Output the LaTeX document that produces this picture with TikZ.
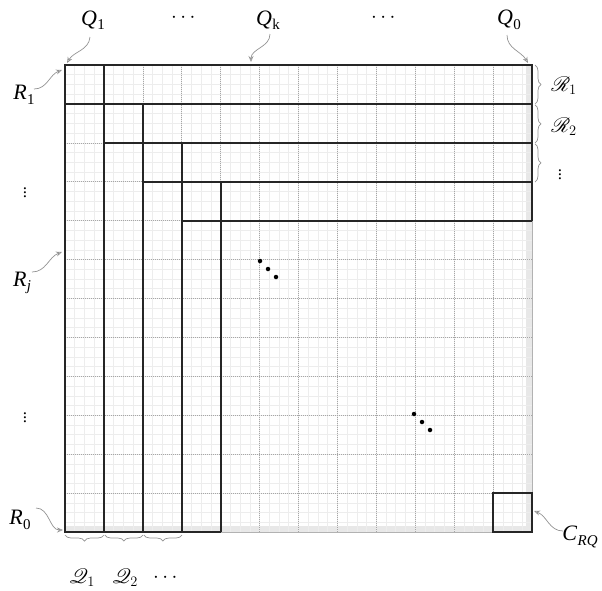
\documentclass[tikz,border=0pt]{standalone}
\usepackage{amsmath,mathrsfs}
\usepackage{fontspec}
\setmainfont{Liberation Serif}
\usetikzlibrary{decorations.pathreplacing,arrows.meta}
\newcommand\sublab[2]{\textit{#1}\kern0.3pt\raisebox{-4.5pt}{\fontsize{15}{16}\selectfont #2}}
\begin{document}
\begin{tikzpicture}[x=1pt,y=-1pt,
  fine/.style={draw=gray!14,line width=0.6pt},
  cellline/.style={draw=gray!70,line width=0.6pt,dash pattern=on 1pt off 1pt},
  thick line/.style={draw=black!85,line width=1.8pt},
  thin edge/.style={draw=gray!60,line width=0.8pt},
  lbl/.style={font=\fontsize{22}{26}\selectfont,inner sep=1pt},
  vdotlbl/.style={font=\fontsize{17}{20}\selectfont,inner sep=1pt},
  pointer/.style={draw=gray!85,line width=0.7pt,-{Stealth[length=6pt,width=5pt,open]}},
  bracestyle/.style={draw=gray!85,line width=0.7pt,decorate,decoration={brace,amplitude=6pt}},
  dotmark/.style={circle,fill=black,inner sep=0pt,minimum size=4.5pt}]
\useasboundingbox (0,0) rectangle (602,590);
\def\cs{38.9167}
\def\fs{9.7292}
% corner coordinates
\coordinate (TL) at (65,65);
\coordinate (TR) at (532,65);
\coordinate (BL) at (65,532);
\coordinate (BR) at (532,532);
% shading strips
\fill[gray!18] (526,65) rectangle (532,532);
\fill[gray!18] (65,526) rectangle (532,532);
% fine grid
\foreach \i in {1,...,47} {
  \draw[fine] ({65+\i*\fs},65) -- ({65+\i*\fs},532);
  \draw[fine] (65,{65+\i*\fs}) -- (532,{65+\i*\fs});
}
% cell lines
\foreach \i in {1,...,11} {
  \draw[cellline] ({65+\i*\cs},65) -- ({65+\i*\cs},532);
  \draw[cellline] (65,{65+\i*\cs}) -- (532,{65+\i*\cs});
}
% thin outer edges
\draw[thin edge] (532,221) -- (BR) -- (221,532);
% thick structure
\draw[thick line] (532,221) -- (TR) -- (TL) -- (BL) -- (221,532);
\draw[thick line] (65,104) -- (532,104);
\draw[thick line] (104,65) -- (104,532);
\draw[thick line] (104,143) -- (532,143);
\draw[thick line] (143,104) -- (143,532);
\draw[thick line] (143,182) -- (532,182);
\draw[thick line] (182,143) -- (182,532);
\draw[thick line] (182,221) -- (532,221);
\draw[thick line] (221,182) -- (221,532);
% C_RQ box
\draw[draw=black!85,line width=2.2pt] (493,493) rectangle (BR);
% interior dots
\node[dotmark] (d1) at (260,261) {};
\node[dotmark] (d2) at (268,269) {};
\node[dotmark] (d3) at (276,277) {};
\node[dotmark] (d4) at (414,414) {};
\node[dotmark] (d5) at (422,422) {};
\node[dotmark] (d6) at (430,430) {};
% top labels
\node[lbl] (q1) at (93,20) {\sublab{Q}{1}};
\node[lbl] (tdots1) at (185,18) {$\cdots$};
\node[lbl] (qk) at (268,20) {\sublab{Q}{k}};
\node[lbl] (tdots2) at (385,18) {$\cdots$};
\node[lbl] (q0) at (509,20) {\sublab{Q}{0}};
% left labels
\node[lbl] (r1) at (24,95) {\sublab{R}{1}};
\node[vdotlbl] (ldots1) at (25,190) {$\vdots$};
\node[lbl] (rj) at (22,283) {\sublab{R}{\textit{j}}};
\node[vdotlbl] (ldots2) at (25,415) {$\vdots$};
\node[lbl] (r0) at (20,520) {\sublab{R}{0}};
% C_RQ label
\node[lbl] (crq) at (580,537) {\sublab{C}{\textit{RQ}}};
% pointer targets
\coordinate (pq1) at (67,63);
\coordinate (pqk) at (251,62);
\coordinate (pq0) at (528,63);
\coordinate (pr1) at (62,70);
\coordinate (prj) at (62,252);
\coordinate (pr0) at (63,530);
\coordinate (pcrq) at (534,511);
% pointers
\draw[pointer] (90,37) to[out=-95,in=60] (pq1);
\draw[pointer] (270,34) to[out=-90,in=90] (pqk);
\draw[pointer] (507,35) to[out=-90,in=120] (pq0);
\draw[pointer] (34,89) to[out=0,in=200] (pr1);
\draw[pointer] (32,272) to[out=0,in=200] (prj);
\draw[pointer] (36,508) to[out=0,in=180] (pr0);
\draw[pointer] (563,531) to[out=180,in=-20] (pcrq);
% right braces
\draw[bracestyle] (535,65) -- (535,104);
\draw[bracestyle] (535,104.9) -- (535,143);
\draw[bracestyle] (535,143.9) -- (535,182);
\node[lbl] (rr1) at (564,86) {$\mathscr{R}_1$};
\node[lbl] (rr2) at (564,127) {$\mathscr{R}_2$};
\node[vdotlbl] (rdots) at (560,172) {$\vdots$};
% bottom braces
\draw[bracestyle] (104,535) -- (65,535);
\draw[bracestyle] (143,535) -- (104.9,535);
\draw[bracestyle] (182,535) -- (143.9,535);
\node[lbl] (bq1) at (82,578) {$\mathscr{Q}_1$};
\node[lbl] (bq2) at (125,578) {$\mathscr{Q}_2$};
\node[lbl] (bdots) at (167,578) {$\cdots$};
\end{tikzpicture}
\end{document}
